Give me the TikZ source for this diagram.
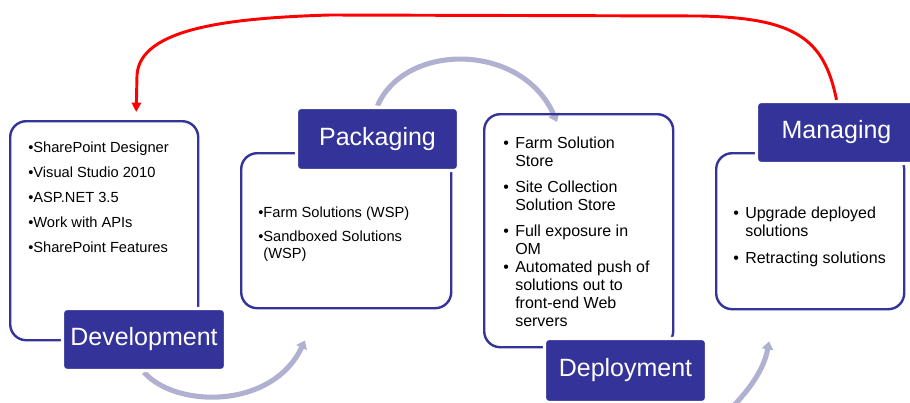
\documentclass[tikz,border=0pt]{standalone}
\usepackage{fontspec}
\setmainfont{Liberation Sans}
\usepackage{tikz}
\usetikzlibrary{arrows.meta,calc,backgrounds}
\definecolor{stageblue}{RGB}{51,51,153}
\definecolor{flowgray}{RGB}{176,176,208}
\definecolor{backred}{RGB}{255,0,0}
\newcommand{\itemdot}{\llap{\makebox[9pt][l]{•}}}

\tikzset{
  panel/.style 2 args={draw=stageblue, line width=1.8pt, rounded corners=12pt,
    anchor=north west, minimum width=#1*0.75pt, minimum height=#2*0.75pt, inner sep=0pt},
  stage/.style 2 args={fill=stageblue, draw=white, line width=2.5pt, rounded corners=3pt,
    text=white, font=\fontsize{18.75}{22}\selectfont,
    minimum width=#1*0.75pt, minimum height=#2*0.75pt, inner sep=0pt},
  items/.style={anchor=north west, align=left, inner sep=0pt, text=black},
  flow/.style={draw=flowgray, line width=3.8pt, -{Triangle[width=8.5pt,length=6pt]}},
  back/.style={draw=backred, line width=2.2pt, -{Triangle[width=7pt,length=7pt]}}
}

\begin{document}
\begin{tikzpicture}[x=0.75pt,y=-0.75pt]
\useasboundingbox (0,0) rectangle (910,403);

% white panels
\node[panel={188}{219}] (devBox) at (9,120) {};
\node[panel={210}{155}] (pkBox) at (240,152) {};
\node[panel={189}{233}] (dpBox) at (483,113) {};
\node[panel={188}{156}] (mgBox) at (715,152) {};

% stage labels
\node[stage={163}{62}] (devLabel) at (144,339.5) {Development};
\node[stage={162}{63}] (pkLabel) at (377.5,139) {Packaging};
\node[stage={162}{64}] (dpLabel) at (625.5,370.5) {Deployment};
\node[stage={160}{62}] (mgLabel) at (836.5,132.5) {Managing};

% cycle arrows, behind the labels
\begin{scope}[on background layer]
\draw[flow] (devLabel.south) .. controls (175,408) and (272,410) .. ($(pkBox.south west)+(65,31)$);
\draw[flow] (pkLabel.north) .. controls (405,42) and (522,42) .. ($(dpBox.north west)+(74,9)$);
\draw[flow] ($(dpLabel.south east)+(19,8)$) .. controls (748,392) and (764,370) .. ($(mgBox.south west)+(54,31)$);
\end{scope}

% lists
\node[items, font=\fontsize{11}{18.75}\selectfont] (devList) at (28,141.3)
  {•SharePoint Designer\\•Visual Studio 2010\\•ASP.NET 3.5\\•Work with APIs\\•SharePoint Features};
\node[items, font=\fontsize{11}{12.75}\selectfont] (pkList) at (258,206.3)
  {•Farm Solutions (WSP)\\[5.25pt]•Sandboxed Solutions\\\hphantom{•}(WSP)};
\node[items, font=\fontsize{12}{13.5}\selectfont] (dpList) at (515,136.3)
  {\itemdot Farm Solution\\Store\\[6pt]\itemdot Site Collection\\Solution Store\\[6pt]\itemdot Full exposure in\\OM\\\itemdot Automated push of\\solutions out to\\front-end Web\\servers};
\node[items, font=\fontsize{12}{13.5}\selectfont] (mgList) at (745,206.3)
  {\itemdot Upgrade deployed\\solutions\\[6.75pt]\itemdot Retracting solutions};

% back to start
\draw[back] (mgLabel.north) .. controls (824,38) and (795,18) .. (700,16) -- (330,15)
  .. controls (230,18) and (140,28) .. (137,75) -- ($(devBox.north)+(32,-8)$);
\end{tikzpicture}
\end{document}
